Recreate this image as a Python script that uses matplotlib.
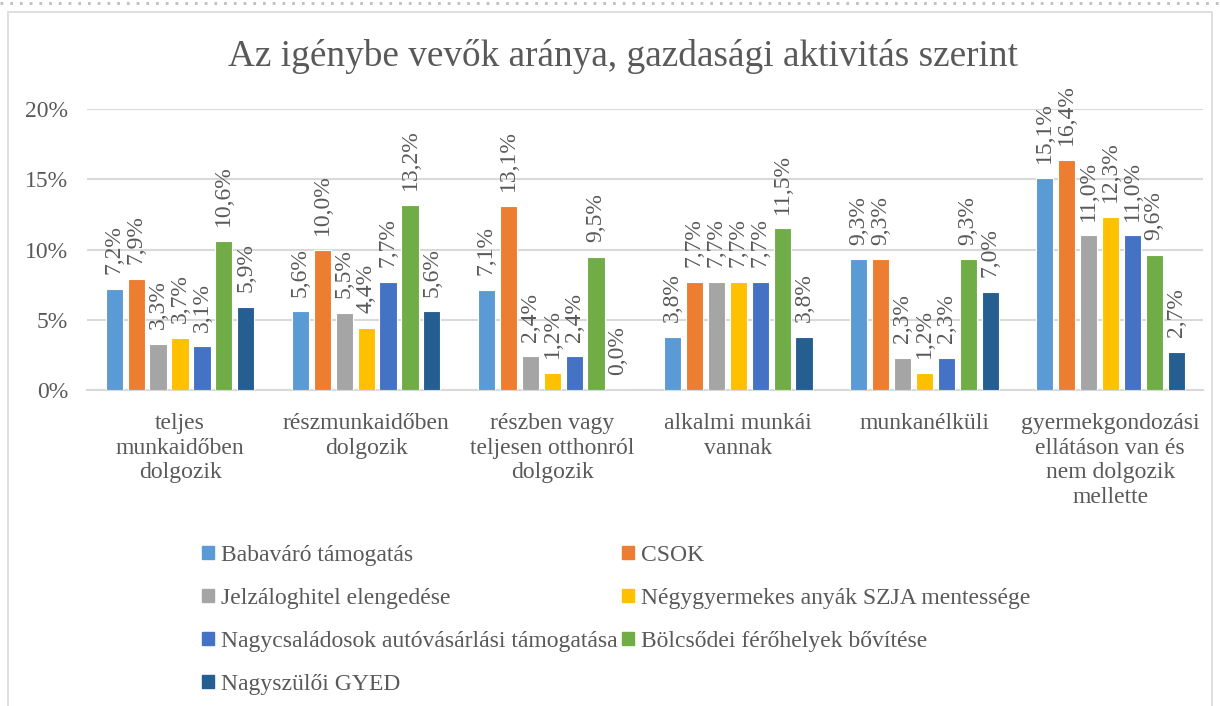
import matplotlib.pyplot as plt
import matplotlib.patches as mpatches
from matplotlib.lines import Line2D
import numpy as np

plt.rcParams['font.family'] = ['Liberation Serif', 'DejaVu Serif']

# kategóriák és sorozatok
categories = ['teljes\nmunkaidőben\ndolgozik', 'részmunkaidőben\ndolgozik',
              'részben vagy\nteljesen otthonról\ndolgozik', 'alkalmi munkái\nvannak',
              'munkanélküli', 'gyermekgondozási\nellátáson van és\nnem dolgozik\nmellette']
series = ['Babaváró támogatás', 'CSOK', 'Jelzáloghitel elengedése',
          'Négygyermekes anyák SZJA mentessége',
          'Nagycsaládosok autóvásárlási támogatása', 'Bölcsődei férőhelyek bővítése',
          'Nagyszülői GYED']
babavaro = [7.2, 5.6, 7.1, 3.8, 9.3, 15.1]
csok = [7.9, 10.0, 13.1, 7.7, 9.3, 16.4]
jelzalog = [3.3, 5.5, 2.4, 7.7, 2.3, 11.0]
szja = [3.7, 4.4, 1.2, 7.7, 1.2, 12.3]
auto = [3.1, 7.7, 2.4, 7.7, 2.3, 11.0]
bolcsode = [10.6, 13.2, 9.5, 11.5, 9.3, 9.6]
gyed = [5.9, 5.6, 0.0, 3.8, 7.0, 2.7]
values = [babavaro, csok, jelzalog, szja, auto, bolcsode, gyed]
colors = ['#5B9BD5', '#ED7D31', '#A5A5A5', '#FFC000', '#4472C4', '#70AD47', '#255E91']

text_color = '#595959'
grid_color = '#D9D9D9'
fs = 17

fig = plt.figure(figsize=(12.2, 7.06), dpi=100)
ax = fig.add_axes([0.0713, 0.4476, 0.915, 0.398])

x = np.arange(len(categories))
step = 0.118
width = 0.092
for i, (vals, c) in enumerate(zip(values, colors)):
    pos = x + (i - 3) * step
    ax.bar(pos, [v / 100 for v in vals], width=width, color=c, edgecolor='white',
           linewidth=0.8, zorder=3)
    for p, v in zip(pos, vals):
        ax.text(p, v / 100 + 0.0105, f'{v:.1f}%'.replace('.', ','), rotation=90,
                ha='center', va='bottom', fontsize=fs, color=text_color,
                clip_on=False)

ax.set_xlim(-0.5, len(categories) - 0.5)
ax.set_ylim(0, 0.2)
ax.set_yticks([0, 0.05, 0.10, 0.15, 0.20])
ax.set_yticklabels(['0%', '5%', '10%', '15%', '20%'])
ax.set_xticks(x)
ax.set_xticklabels(categories, linespacing=1.23)
ax.tick_params(axis='both', length=0, labelsize=fs, labelcolor=text_color)
ax.tick_params(axis='y', pad=13.5)
ax.tick_params(axis='x', pad=16.5)
ax.grid(axis='y', color=grid_color, linewidth=1.5, zorder=0)
for s in ['top', 'right', 'left']:
    ax.spines[s].set_visible(False)
ax.spines['bottom'].set_color(grid_color)
ax.spines['bottom'].set_linewidth(1.5)

fig.text(623 / 1220, 1 - 57 / 706, 'Az igénybe vevők aránya, gazdasági aktivitás szerint',
         ha='center', va='center', fontsize=26.8, color=text_color)

# jelmagyarázat: sorfolytonos sorrend két oszlopban
order = [0, 2, 4, 6, 1, 3, 5]
handles = [mpatches.Patch(color=colors[i]) for i in order]
labels = [series[i] for i in order]
fig.legend(handles, labels, ncol=2, loc='upper left',
           bbox_to_anchor=(202 / 1220, 1 - 545 / 706), frameon=False,
           fontsize=fs, labelcolor=text_color, handlelength=0.5,
           handleheight=0.5, handletextpad=0.3, columnspacing=0.2,
           labelspacing=0.93, borderpad=0, borderaxespad=0)

# keret
fig.add_artist(mpatches.Rectangle((8 / 1220, -0.05), 1204 / 1220, 1.05 - 12 / 706,
                                  transform=fig.transFigure, fill=False,
                                  edgecolor=grid_color, linewidth=1.2))
fig.add_artist(Line2D([0, 1], [1 - 3 / 706, 1 - 3 / 706], transform=fig.transFigure,
                      color='#BFBFBF', linewidth=2, linestyle=(0, (1, 2.5))))

plt.savefig('out.png', dpi=100)
